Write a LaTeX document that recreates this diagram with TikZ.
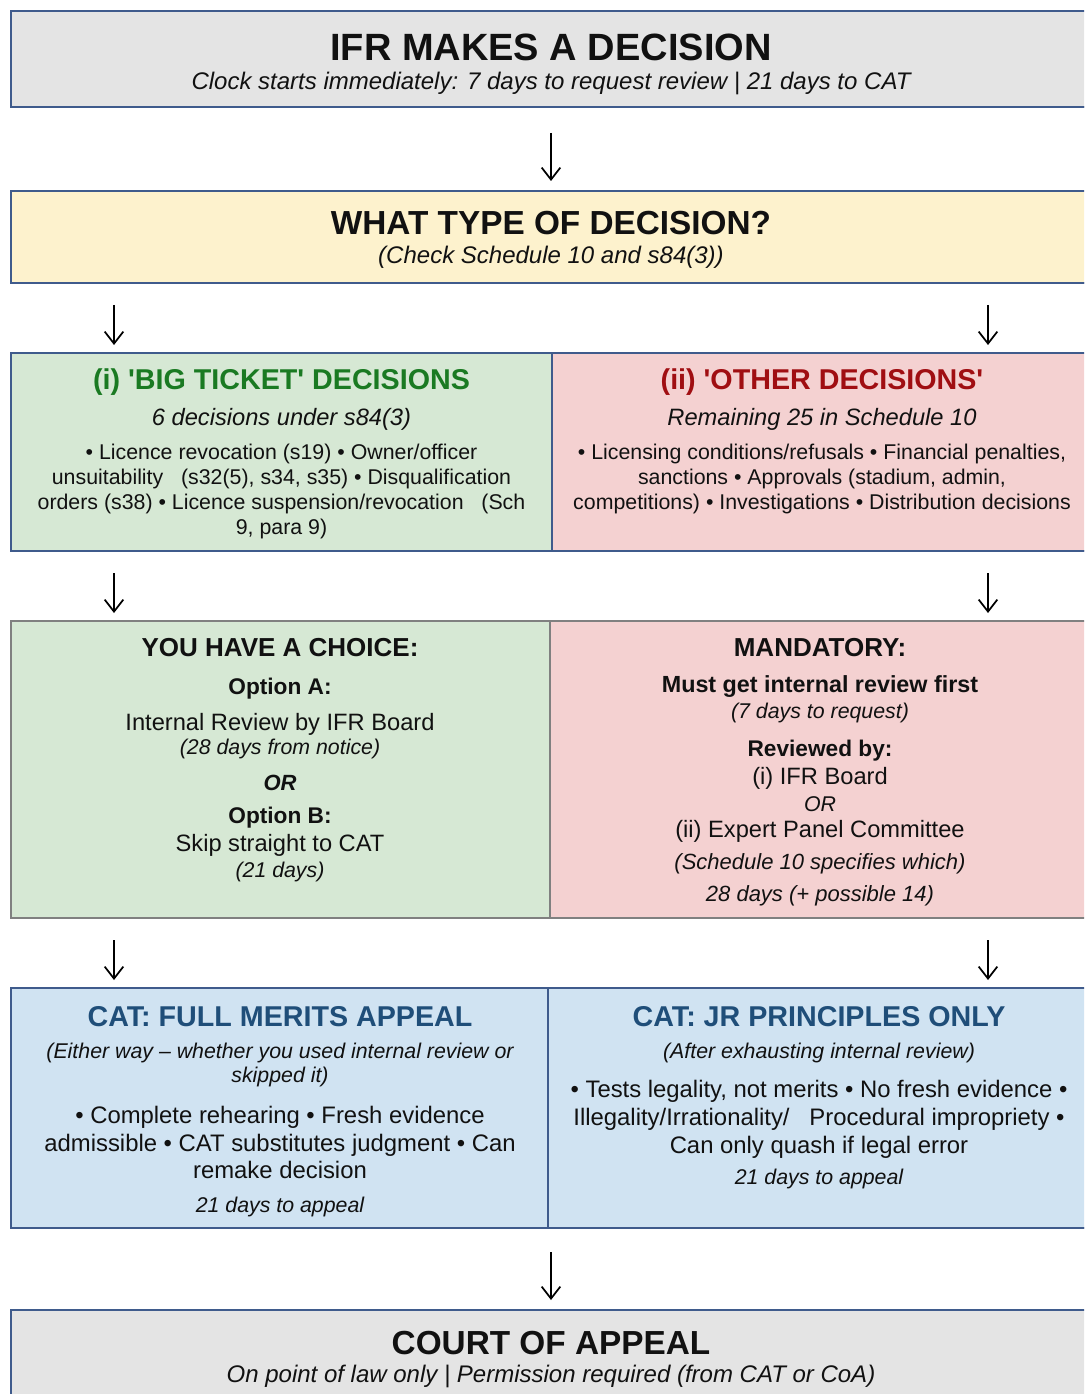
\documentclass[tikz,border=0pt]{standalone}
\usepackage{fontspec}
\setmainfont{Liberation Sans}[Ligatures=TeXOff]
\usetikzlibrary{calc,arrows.meta}
\definecolor{graybg}{HTML}{E4E4E4}
\definecolor{yellowbg}{HTML}{FDF2CD}
\definecolor{greenbg}{HTML}{D6E8D4}
\definecolor{redbg}{HTML}{F4D1D1}
\definecolor{bluebg}{HTML}{D0E3F2}
\definecolor{edgeblue}{HTML}{3F5B8C}
\definecolor{edgegray}{HTML}{808080}
\definecolor{greentxt}{HTML}{1A7A22}
\definecolor{redtxt}{HTML}{A00E12}
\definecolor{bluetxt}{HTML}{1F4E79}
\definecolor{ink}{HTML}{111111}
\newcommand\fsz[2]{\fontsize{#1}{#2}\selectfont}
\begin{document}
\begin{tikzpicture}[x=0.75pt,y=-0.75pt,
  box/.style={rectangle,draw=edgeblue,line width=0.9pt,inner sep=0pt,outer sep=0pt},
  graybox/.style={rectangle,draw=edgegray,line width=0.9pt,inner sep=0pt,outer sep=0pt},
  txt/.style={inner sep=0pt,outer sep=0pt,text=ink,align=center},
  arr/.style={draw=black,line width=1.3pt,-{Straight Barb[length=9pt,width=14pt,line width=1.3pt]}},
  bottomedge/.style={draw=edgeblue,line width=2pt}]
\useasboundingbox (0,0) rectangle (1084,1394);
\clip (0,0) rectangle (1084,1394);
\fill[white] (0,0) rectangle (1084,1394);

% boxes
\node[box,fill=graybg,minimum width=810.75pt,minimum height=72pt] (b1) at (551.5,59) {};
\node[box,fill=yellowbg,minimum width=810.75pt,minimum height=69pt] (b2) at (551.5,237) {};
\node[box,fill=greenbg,minimum width=405.75pt,minimum height=148.5pt] (b3L) at (281.5,452) {};
\node[box,fill=redbg,minimum width=405pt,minimum height=148.5pt] (b3R) at (822,452) {};
\node[graybox,fill=greenbg,minimum width=404.25pt,minimum height=222.75pt] (b4L) at (280.5,769.5) {};
\node[graybox,fill=redbg,minimum width=406.5pt,minimum height=222.75pt] (b4R) at (821,769.5) {};
\node[box,fill=bluebg,minimum width=402.75pt,minimum height=180pt] (b5L) at (279.5,1108) {};
\node[box,fill=bluebg,minimum width=408pt,minimum height=180pt] (b5R) at (820,1108) {};
\node[box,fill=graybg,minimum width=810.75pt,minimum height=67.5pt] (b6) at (551.5,1355) {};

\draw[bottomedge] (b1.south west) -- (b1.south east);
\draw[bottomedge] (b2.south west) -- (b2.south east);
\draw[bottomedge] (b3L.south west) -- (b3R.south east);
\draw[bottomedge] (b5L.south west) -- (b5R.south east);

% connectors
\draw[arr] ($(b1.south)+(-0.5,26)$) -- ($(b2.north)+(-0.5,-10)$);
\draw[arr] ($(b2.south west)+(103,22)$) -- ($(b3L.north west)+(103,-8)$);
\draw[arr] ($(b2.south east)+(-104,22)$) -- ($(b3R.north east)+(-104,-8)$);
\draw[arr] ($(b3L.south west)+(103,22)$) -- ($(b4L.north west)+(103,-8)$);
\draw[arr] ($(b3R.south east)+(-104,22)$) -- ($(b4R.north east)+(-104,-8)$);
\draw[arr] ($(b4L.south west)+(103,22)$) -- ($(b5L.north west)+(103,-8)$);
\draw[arr] ($(b4R.south east)+(-104,22)$) -- ($(b5R.north east)+(-104,-8)$);
\draw[arr] ($(b5L.south east)+(3,24)$) -- ($(b6.north)+(-0.5,-10)$);

% box 1
\node[txt,font=\fsz{28.5}{34}\bfseries] (t1) at (551,47) {IFR MAKES A DECISION};
\node[txt,font=\fsz{18}{22}\itshape] (s1) at (551,83) {Clock starts immediately: 7 days to request review | 21 days to CAT};
% box 2
\node[txt,font=\fsz{25}{30}\bfseries] (t2) at (551,223) {WHAT TYPE OF DECISION?};
\node[txt,font=\fsz{18}{22}\itshape] (s2) at (551,257) {(Check Schedule 10 and s84(3))};
% row 3 left
\node[txt,text=greentxt,font=\fsz{21.5}{26}\bfseries] (t3L) at (281.5,382) {(i) 'BIG TICKET' DECISIONS};
\node[txt,font=\fsz{17.75}{21}\itshape] (s3L) at (281.5,419) {6 decisions under s84(3)};
\node[txt,font=\fsz{16}{18.75}] (p3L) at (281.5,491.5) {• Licence revocation (s19) • Owner/officer\\unsuitability\ \ \ (s32(5), s34, s35) • Disqualification\\orders (s38) • Licence suspension/revocation\ \ \ (Sch\\9, para 9)};
% row 3 right
\node[txt,text=redtxt,font=\fsz{21.5}{26}\bfseries] (t3R) at (822,382) {(ii) 'OTHER DECISIONS'};
\node[txt,font=\fsz{17.75}{21}\itshape] (s3R) at (822,419) {Remaining 25 in Schedule 10};
\node[txt,font=\fsz{16}{18.75}] (p3R) at (822,479) {• Licensing conditions/refusals • Financial penalties,\\sanctions • Approvals (stadium, admin,\\competitions) • Investigations • Distribution decisions};
% row 4 left
\node[txt,font=\fsz{19.5}{23}\bfseries] (h4L) at (280,648) {YOU HAVE A CHOICE:};
\node[txt,font=\fsz{17}{20}\bfseries] (oA) at (280,689) {Option A:};
\node[txt,font=\fsz{17.75}{21}] (irA) at (280,724) {Internal Review by IFR Board};
\node[txt,font=\fsz{16}{19}\itshape] (dA) at (280,749) {(28 days from notice)};
\node[txt,font=\fsz{16.5}{19}\bfseries\itshape] (orL) at (280,783) {OR};
\node[txt,font=\fsz{17}{20}\bfseries] (oB) at (280,818) {Option B:};
\node[txt,font=\fsz{17.75}{21}] (skB) at (280,845) {Skip straight to CAT};
\node[txt,font=\fsz{16}{19}\itshape] (dB) at (280,872) {(21 days)};
% row 4 right
\node[txt,font=\fsz{19.5}{23}\bfseries] (h4R) at (820,648) {MANDATORY:};
\node[txt,font=\fsz{17.5}{21}\bfseries] (mg) at (820,687) {Must get internal review first};
\node[txt,font=\fsz{16}{19}\itshape] (d7) at (820,713) {(7 days to request)};
\node[txt,font=\fsz{17}{20}\bfseries] (rb) at (820,751) {Reviewed by:};
\node[txt,font=\fsz{17.75}{21}] (ib) at (820,778) {(i) IFR Board};
\node[txt,font=\fsz{16}{19}\itshape] (orR) at (820,804) {OR};
\node[txt,font=\fsz{17.75}{21}] (ep) at (820,831) {(ii) Expert Panel Committee};
\node[txt,font=\fsz{16.5}{19}\itshape] (sch) at (820,864) {(Schedule 10 specifies which)};
\node[txt,font=\fsz{16.5}{19}\itshape] (d28) at (820,896) {28 days (+ possible 14)};
% row 5 left
\node[txt,text=bluetxt,font=\fsz{21.5}{26}\bfseries] (t5L) at (280,1017) {CAT: FULL MERITS APPEAL};
\node[txt,font=\fsz{16}{18}\itshape] (i5L) at (280,1065) {(Either way – whether you used internal review or\\skipped it)};
\node[txt,font=\fsz{17.9}{20.6}] (p5L) at (280,1142.5) {• Complete rehearing • Fresh evidence\\admissible • CAT substitutes judgment • Can\\remake decision};
\node[txt,font=\fsz{16}{19}\itshape] (d5L) at (280,1207) {21 days to appeal};
% row 5 right
\node[txt,text=bluetxt,font=\fsz{21.5}{26}\bfseries] (t5R) at (819,1017) {CAT: JR PRINCIPLES ONLY};
\node[txt,font=\fsz{16}{19}\itshape] (i5R) at (819,1053) {(After exhausting internal review)};
\node[txt,font=\fsz{17.9}{21}] (p5R) at (819,1119) {• Tests legality, not merits • No fresh evidence •\\Illegality/Irrationality/\ \ \ Procedural impropriety •\\Can only quash if legal error};
\node[txt,font=\fsz{16}{19}\itshape] (d5R) at (819,1179) {21 days to appeal};
% box 6
\node[txt,font=\fsz{25}{30}\bfseries] (t6) at (551,1343) {COURT OF APPEAL};
\node[txt,font=\fsz{18}{21}\itshape] (s6) at (551,1376) {On point of law only | Permission required (from CAT or CoA)};
\end{tikzpicture}
\end{document}
